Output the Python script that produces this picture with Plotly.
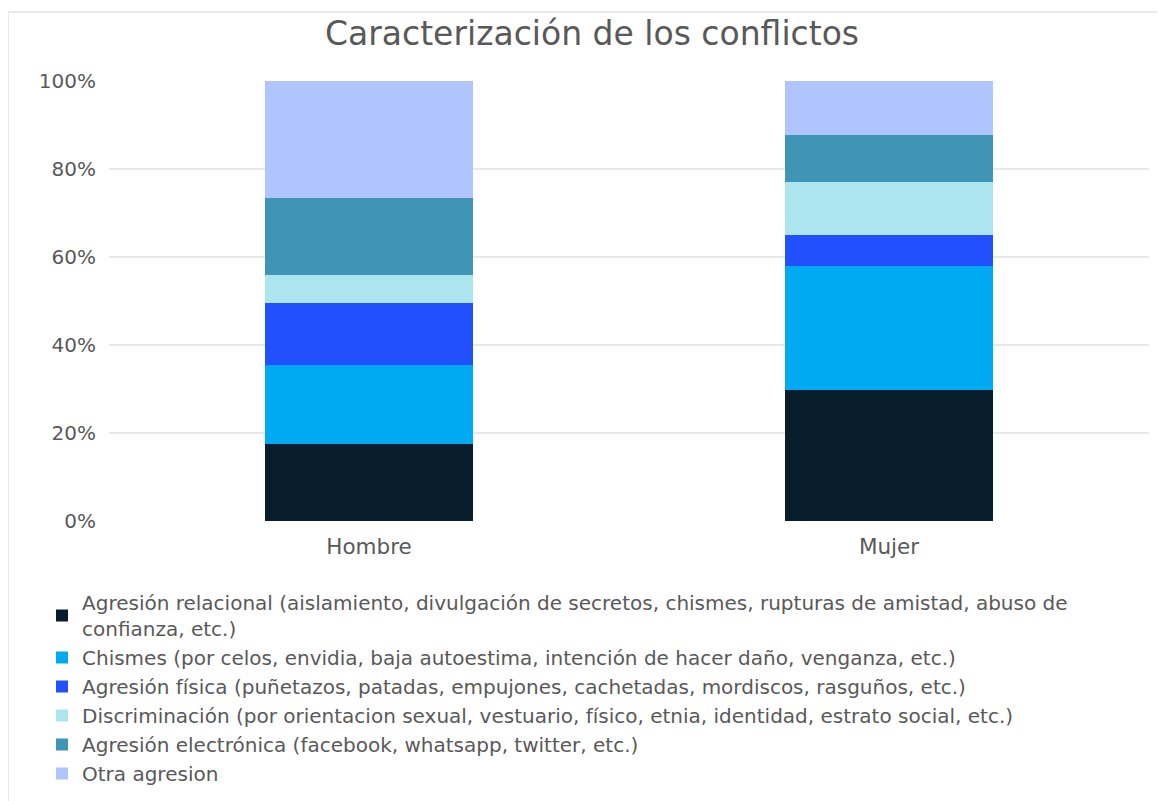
import plotly.graph_objects as go

categories = ["Hombre", "Mujer"]
series_names = [
    "Agresión relacional (aislamiento, divulgación de secretos, chismes, rupturas de amistad, abuso de<br>confianza, etc.)",
    "Chismes (por celos, envidia, baja autoestima, intención de hacer daño, venganza, etc.)",
    "Agresión física (puñetazos, patadas, empujones, cachetadas, mordiscos, rasguños, etc.)",
    "Discriminación (por orientacion sexual, vestuario, físico, etnia, identidad, estrato social, etc.)",
    "Agresión electrónica (facebook, whatsapp, twitter, etc.)",
    "Otra agresion",
]
relacional = [17.6, 29.7]
chismes = [17.8, 28.3]
fisica = [14.2, 6.9]
discriminacion = [6.2, 12.1]
electronica = [17.6, 10.7]
otra = [26.6, 12.3]
series_values = [relacional, chismes, fisica, discriminacion, electronica, otra]
colors = ["#071d2b", "#00aaf2", "#2250ff", "#ace5ee", "#3e95b5", "#b0c4fd"]
tick_vals = [0, 20, 40, 60, 80, 100]
tick_text = ["0%", "20%", "40%", "60%", "80%", "100%"]

font_family = "DejaVu Sans, Verdana, sans-serif"
gray = "#595959"

fig = go.Figure()
for name, vals, col in zip(series_names, series_values, colors):
    fig.add_trace(go.Bar(
        x=categories, y=vals, name=name,
        marker=dict(color=col, line=dict(width=0)),
    ))

# the page body adds an 8px offset; figure coordinates = screen - 8
OFF = 8
W, H = 1165, 801
ml, mr, mt, mb = 101, 24, 73, 288
pw = W - ml - mr
ph = H - mt - mb

def px_x(x):
    return (x - OFF - ml) / pw

def px_y(y):
    return (H - mb - (y - OFF)) / ph

fig.update_layout(
    width=W, height=H,
    barmode="stack",
    bargap=0.6,
    plot_bgcolor="white",
    paper_bgcolor="white",
    margin=dict(l=ml, r=mr, t=mt, b=mb, autoexpand=False),
    font=dict(family=font_family, color=gray),
    title=dict(
        text="Caracterización de los conflictos",
        x=(592 - OFF) / W, xanchor="center",
        y=1 - (33 - OFF) / H, yanchor="middle",
        font=dict(size=33, color=gray, family=font_family),
    ),
    xaxis=dict(
        showgrid=False, showline=False, zeroline=False,
        tickfont=dict(size=21.5, color=gray),
        ticklabelstandoff=10,
        tickangle=0,
    ),
    yaxis=dict(
        range=[0, 100],
        tickvals=tick_vals, ticktext=tick_text,
        showgrid=True, gridcolor="#e8e8e8", gridwidth=1.5,
        zeroline=False, showline=False,
        tickfont=dict(size=20, color=gray),
        ticklabelstandoff=12,
    ),
    legend=dict(
        xref="paper", yref="paper",
        x=px_x(42), xanchor="left",
        y=px_y(583), yanchor="top",
        font=dict(size=20, color=gray, family=font_family),
        traceorder="normal",
        bgcolor="rgba(0,0,0,0)",
        valign="middle",
    ),
    showlegend=True,
    shapes=[
        dict(type="line", xref="paper", yref="paper",
             x0=px_x(8), x1=px_x(1180), y0=px_y(12), y1=px_y(12),
             line=dict(color="#e8e8e8", width=2)),
        dict(type="line", xref="paper", yref="paper",
             x0=px_x(8), x1=px_x(8), y0=px_y(12), y1=px_y(820),
             line=dict(color="#e8e8e8", width=2)),
    ],
)

fig.write_html("out.html")
